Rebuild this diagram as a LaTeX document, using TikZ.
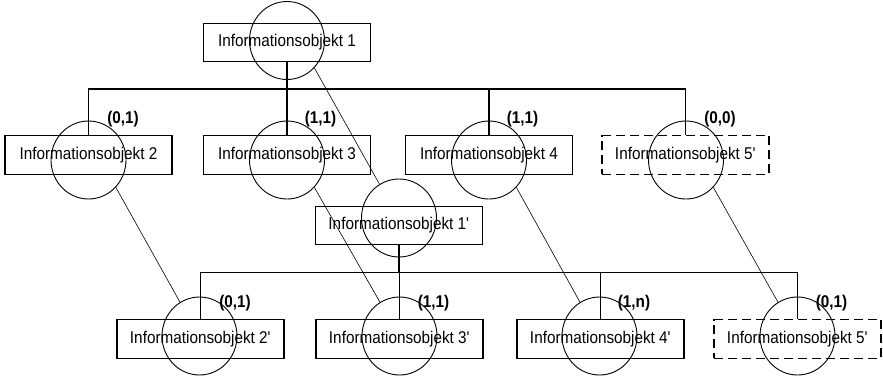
\documentclass[tikz,border=0pt]{standalone}
\usepackage{fontspec}
\setmainfont{Liberation Sans}[FakeStretch=0.9]
\usetikzlibrary{shapes.geometric}
\newcommand{\apos}{\textquotesingle}
\begin{document}
\begin{tikzpicture}[x=1pt,y=-1pt,
  obj/.style={draw, line width=1.1pt, minimum width=167pt, minimum height=38.5pt, inner sep=0pt, font=\fontsize{17}{20}\selectfont},
  optobj/.style={obj, dash pattern=on 9pt off 5pt},
  ring/.style={draw, ellipse, line width=0.9pt, minimum width=75pt, minimum height=78pt, inner sep=0pt},
  card/.style={inner sep=0pt, font=\bfseries\fontsize{17}{20}\selectfont},
  tie/.style={line width=0.6pt},
  bus/.style={line width=1.2pt}]
\useasboundingbox (0,0) rectangle (883,376);
% boxes
\node[obj] (b1) at (287,42.5) {Informationsobjekt 1};
\node[obj] (b2) at (88.5,155) {Informationsobjekt 2};
\node[obj] (b3) at (287,155) {Informationsobjekt 3};
\node[obj] (b4) at (489,155) {Informationsobjekt 4};
\node[optobj] (b5) at (685.5,155) {Informationsobjekt 5\apos};
\node[obj] (p1) at (399,225.5) {Informationsobjekt 1\apos};
\node[obj] (p2) at (200.5,339) {Informationsobjekt 2\apos};
\node[obj] (p3) at (399.5,339) {Informationsobjekt 3\apos};
\node[obj] (p4) at (600.5,339) {Informationsobjekt 4\apos};
\node[optobj] (p5) at (797.5,339) {Informationsobjekt 5\apos};
% circles
\node[ring] (cb1) at (287,40.5) {};
\node[ring] (cb2) at (88.5,160) {};
\node[ring] (cb3) at (287,160) {};
\node[ring] (cb4) at (489,160) {};
\node[ring] (cb5) at (686,160) {};
\node[ring] (cp1) at (399,218) {};
\node[ring] (cp2) at (199.5,336) {};
\node[ring] (cp3) at (399.5,336) {};
\node[ring] (cp4) at (599.5,336) {};
\node[ring] (cp5) at (797.5,336) {};
% buses
\coordinate (busA) at (0,89);
\coordinate (busB) at (0,272.5);
\foreach \c in {b2,b3,b4,b5}
  \draw[bus] (b1.south) -- (b1.south |- busA) -| (\c.north);
\foreach \c in {p2,p3,p4,p5}
  \draw[bus] (p1.south) -- (p1.south |- busB) -| (\c.north);
% ties
\draw[tie] (cb1.-45) -- (cp1.120);
\foreach \i in {2,3,4,5}
  \draw[tie] (cb\i.-45) -- (cp\i.120);
% cardinalities
\node[card] (k2) at (123,119) {(0,1)};
\node[card] (k3) at (320.5,119) {(1,1)};
\node[card] (k4) at (522.5,119) {(1,1)};
\node[card] (k5) at (720,119) {(0,0)};
\node[card] (q2) at (235,303) {(0,1)};
\node[card] (q3) at (433.5,303) {(1,1)};
\node[card] (q4) at (634,303) {(1,n)};
\node[card] (q5) at (831.5,303) {(0,1)};
\end{tikzpicture}
\end{document}
